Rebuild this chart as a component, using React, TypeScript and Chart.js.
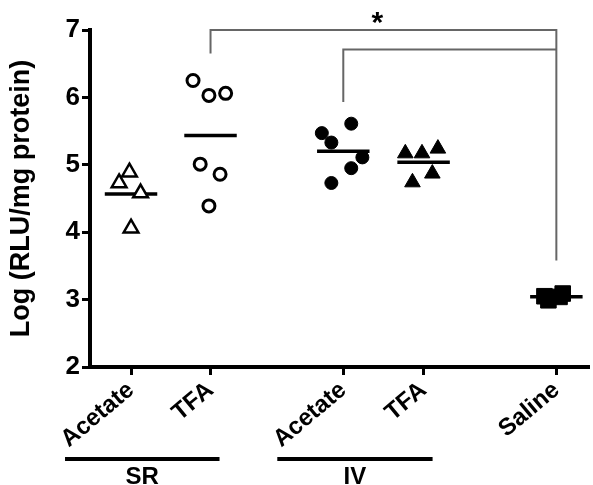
import React, { useEffect, useRef } from 'react';
import { Chart, registerables } from 'chart.js';
Chart.register(...registerables);

const categories = ['Acetate', 'TFA', 'Acetate', 'TFA', 'Saline'];
const categoryPositions = [1, 2, 3.67, 4.68, 6.35];

const srAcetate = [4.89, 4.73, 4.58, 4.06];
const srAcetateJitter = [-0.02, -0.15, 0.12, 0];
const srTfa = [6.25, 6.03, 6.06, 5.01, 4.86, 4.39];
const srTfaJitter = [-0.22, -0.02, 0.19, -0.13, 0.12, -0.02];
const ivAcetate = [5.61, 5.47, 5.33, 5.11, 4.95, 4.73];
const ivAcetateJitter = [0.1, -0.27, -0.15, 0.24, 0.1, -0.15];
const ivTfa = [5.17, 5.17, 5.24, 4.74, 4.87];
const ivTfaJitter = [-0.23, -0.02, 0.18, -0.14, 0.11];
const saline = [3.05, 2.99, 3.09, 3.04];
const salineJitter = [-0.15, -0.1, 0.08, 0.04];

const yTicks = [2, 3, 4, 5, 6, 7];
const yTitle = 'Log (RLU/mg protein)';

const groupLabels = ['SR', 'IV'];
const groupFrom = [0, 2];
const groupTo = [1, 3];

const bracket1 = { from: 1, to: 4, top: 7.0, leftEnd: 6.65, rightEnd: 3.58 };
const bracket2 = { from: 2, to: 4, top: 6.71, leftEnd: 5.93, rightEnd: 6.71 };
const sigLabel = '*';

const FONT = "'Liberation Sans', Arial, Helvetica, sans-serif";

const mean = (a: number[]) => a.reduce((s, v) => s + v, 0) / a.length;

export default function App() {
  const ref = useRef<HTMLCanvasElement | null>(null);
  useEffect(() => {
    if (!ref.current) return;
    const groups = [
      { vals: srAcetate, jit: srAcetateJitter, style: 'triangle', r: 8.5, bg: '#fff', bw: 2.5 },
      { vals: srTfa, jit: srTfaJitter, style: 'circle', r: 6, bg: '#fff', bw: 3 },
      { vals: ivAcetate, jit: ivAcetateJitter, style: 'circle', r: 6.5, bg: '#000', bw: 1 },
      { vals: ivTfa, jit: ivTfaJitter, style: 'triangle', r: 9, bg: '#000', bw: 1 },
      { vals: saline, jit: salineJitter, style: 'rect', r: 11, bg: '#000', bw: 1 },
    ];
    const datasets: any[] = [];
    groups.forEach((g, i) => {
      const c = categoryPositions[i];
      datasets.push({
        data: g.vals.map((v, k) => ({ x: c + g.jit[k], y: v })),
        pointStyle: g.style,
        pointRadius: g.r,
        backgroundColor: g.bg,
        borderColor: '#000',
        pointBorderWidth: g.bw,
        showLine: false,
        clip: false,
      });
      const m = mean(g.vals);
      datasets.push({
        data: [{ x: c - 0.33, y: m }, { x: c + 0.33, y: m }],
        showLine: true,
        borderColor: '#000',
        borderWidth: 3.5,
        pointRadius: 0,
        clip: false,
      });
    });
    [bracket1, bracket2].forEach((b) => {
      const x1 = categoryPositions[b.from];
      const x2 = categoryPositions[b.to];
      datasets.push({
        data: [
          { x: x1, y: b.leftEnd },
          { x: x1, y: b.top },
          { x: x2, y: b.top },
          { x: x2, y: b.rightEnd },
        ],
        showLine: true,
        borderColor: '#666',
        borderWidth: 2,
        pointRadius: 0,
        clip: false,
      });
    });

    const annot = {
      id: 'annot',
      afterDraw(chart: any) {
        const { ctx, scales, chartArea } = chart;
        const xs = scales.x;
        const ys = scales.y;
        ctx.save();
        ctx.fillStyle = '#000';
        ctx.strokeStyle = '#000';
        ctx.lineWidth = 4;
        ctx.lineCap = 'butt';
        // extend x-axis line to the right edge
        ctx.beginPath();
        ctx.moveTo(chartArea.right - 4, chartArea.bottom);
        ctx.lineTo(590, chartArea.bottom);
        ctx.stroke();
        ctx.font = `bold 24px ${FONT}`;
        ctx.textAlign = 'center';
        ctx.textBaseline = 'alphabetic';
        groupLabels.forEach((lab, i) => {
          const a = xs.getPixelForValue(categoryPositions[groupFrom[i]]) - 66;
          const b = xs.getPixelForValue(categoryPositions[groupTo[i]]) + 9;
          ctx.beginPath();
          ctx.moveTo(a, 459);
          ctx.lineTo(b, 459);
          ctx.stroke();
          ctx.fillText(lab, (a + b) / 2, 484);
        });
        const sx = (xs.getPixelForValue(categoryPositions[bracket1.from]) + xs.getPixelForValue(categoryPositions[bracket1.to])) / 2 - 6;
        const sy = ys.getPixelForValue(bracket1.top);
        ctx.font = `bold 30px ${FONT}`;
        ctx.fillText(sigLabel, sx, sy + 2);
        ctx.restore();
      },
    };

    const chart = new Chart(ref.current, {
      type: 'scatter',
      data: { datasets },
      options: {
        animation: false,
        responsive: false,
        devicePixelRatio: 1,
        layout: { padding: { top: 30, right: 3, left: 0, bottom: 0 } },
        plugins: { legend: { display: false }, tooltip: { enabled: false } },
        scales: {
          x: {
            type: 'linear',
            min: 0.484,
            max: 6.66,
            afterBuildTicks: (s: any) => {
              s.ticks = categoryPositions.map((v) => ({ value: v }));
            },
            afterFit: (s: any) => {
              s.height = 118;
              s.paddingLeft = 0;
              s.paddingRight = 0;
            },
            border: { display: true, color: '#000', width: 4 },
            grid: { drawOnChartArea: false, drawTicks: true, tickLength: 8, color: '#000', lineWidth: 3 },
            ticks: {
              autoSkip: false,
              minRotation: 40,
              maxRotation: 40,
              padding: 1,
              color: '#000',
              font: { family: FONT, size: 24, weight: 'bold' },
              callback: (_v: any, i: number) => categories[i],
            },
          },
          y: {
            type: 'linear',
            min: 2,
            max: 7,
            afterBuildTicks: (s: any) => {
              s.ticks = yTicks.map((v) => ({ value: v }));
            },
            afterFit: (s: any) => {
              s.width = 90;
              s.paddingTop = 0;
              s.paddingBottom = 0;
            },
            border: { display: true, color: '#000', width: 4 },
            grid: { drawOnChartArea: false, drawTicks: true, tickLength: 8, color: '#000', lineWidth: 3 },
            ticks: {
              padding: 2,
              color: '#000',
              font: { family: FONT, size: 26, weight: 'bold' },
              callback: (v: any) => String(v),
            },
            title: {
              display: true,
              text: yTitle,
              color: '#000',
              font: { family: FONT, size: 27, weight: 'bold' },
              padding: { top: 5, bottom: 0 },
            },
          },
        },
      } as any,
      plugins: [annot],
    });
    return () => chart.destroy();
  }, []);
  return (
    <div style={{ position: 'fixed', left: 0, top: 0, width: 593, height: 485, background: '#fff' }}>
      <canvas ref={ref} width={593} height={485} />
    </div>
  );
}
